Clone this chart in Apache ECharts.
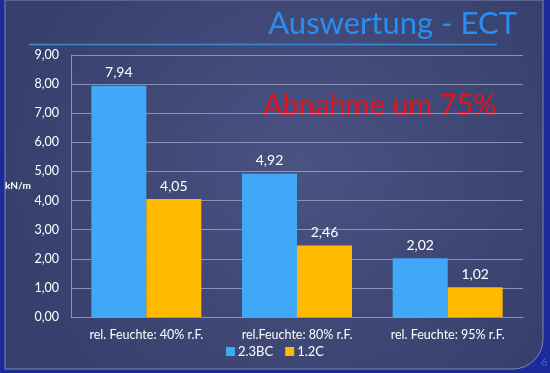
<!DOCTYPE html>
<html><head><meta charset="utf-8">
<script src="https://cdn.jsdelivr.net/npm/echarts@6/dist/echarts.min.js"></script>
<style>html,body{margin:0;padding:0;background:#1b2b9a;}#c{width:550px;height:373px;}</style>
</head><body><div id="c"></div>
<script>
var categories = ['rel. Feuchte: 40% r.F.', 'rel.Feuchte: 80% r.F.', 'rel. Feuchte: 95% r.F.'];
var series1Name = '2.3BC';
var series1 = [7.94, 4.92, 2.02];
var series2Name = '1.2C';
var series2 = [4.05, 2.46, 1.02];
var yTicks = {min: 0, max: 9, interval: 1};

var fmt = function (v) { return v.toFixed(2).replace('.', ','); };
var font = 'Lato, "Open Sans", sans-serif';
var chart = echarts.init(document.getElementById('c'));
chart.setOption({
  backgroundColor: 'transparent',
  animation: false,
  graphic: [
    {type: 'rect', z: -10, shape: {x: 5, y: 0, width: 538, height: 369, r: [0, 0, 30, 0]},
     style: {fill: new echarts.graphic.RadialGradient(0.55, 0.45, 0.8, [{offset: 0, color: '#4a5282'}, {offset: 1, color: '#373f6c'}]), stroke: '#8088b0', lineWidth: 1}},
    {type: 'line', z: -5, shape: {x1: 29, y1: 44.5, x2: 497, y2: 44.5}, style: {stroke: '#3a8ad8', lineWidth: 1.5}},
    {type: 'text', left: 5, top: 181, style: {text: 'kN/m', fill: '#ffffff', font: 'bold 10px ' + font}},
    {type: 'text', left: 263, top: 91, style: {text: 'Abnahme um 75%', fill: '#e8121c', font: '29px ' + font}},
    {type: 'text', left: 541, top: 357, style: {text: '6', fill: '#2f6fd0', font: '11px ' + font}}
  ],
  title: {
    text: 'Auswertung - ECT', right: 28, top: 3,
    textStyle: {color: '#2a8ef0', fontSize: 31, fontWeight: 'normal', fontFamily: font}
  },
  legend: {
    bottom: 10, left: 'center', itemWidth: 9, itemHeight: 9, itemGap: 12, icon: 'rect',
    textStyle: {color: '#ffffff', fontSize: 13, fontFamily: font, padding: [0, 0, 0, -2]},
    data: [series1Name, series2Name]
  },
  grid: {left: 71, right: 27, top: 55, bottom: 56},
  xAxis: {
    type: 'category', data: categories,
    axisLine: {lineStyle: {color: '#8c92b4'}},
    axisTick: {show: false},
    axisLabel: {color: '#ffffff', fontSize: 12.5, fontFamily: font, margin: 11}
  },
  yAxis: {
    type: 'value', min: yTicks.min, max: yTicks.max, interval: yTicks.interval,
    axisLine: {show: true, lineStyle: {color: '#8c92b4'}},
    axisTick: {show: true, length: 0},
    splitLine: {lineStyle: {color: '#8c92b4'}},
    axisLabel: {color: '#ffffff', fontSize: 12.5, fontFamily: font, margin: 12, formatter: fmt}
  },
  series: [
    {name: series1Name, type: 'bar', data: series1, barGap: '0%', barCategoryGap: '27%',
     itemStyle: {color: '#3fa9f8'},
     label: {show: true, position: 'top', color: '#ffffff', fontSize: 14, fontFamily: font, distance: 6, formatter: function (p) { return fmt(p.value); }}},
    {name: series2Name, type: 'bar', data: series2, barGap: '0%', barCategoryGap: '27%',
     itemStyle: {color: '#ffb900'},
     label: {show: true, position: 'top', color: '#ffffff', fontSize: 14, fontFamily: font, distance: 6, formatter: function (p) { return fmt(p.value); }}}
  ]
});
</script></body></html>
